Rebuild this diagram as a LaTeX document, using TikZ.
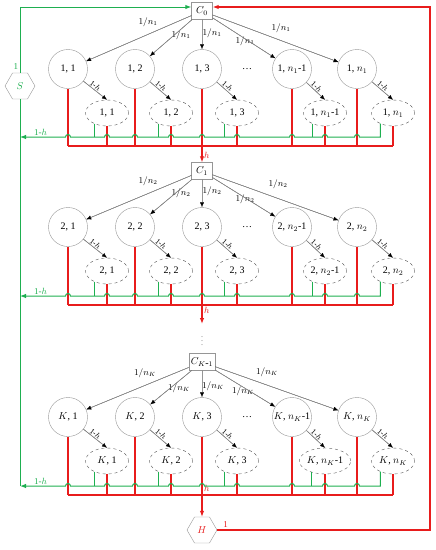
\documentclass[tikz,border=0pt]{standalone}
\usepackage{fontspec}
\setmainfont{Liberation Serif}
\usetikzlibrary{arrows.meta,shapes.geometric}
\definecolor{lgreen}{RGB}{30,175,80}
\definecolor{lred}{RGB}{232,28,28}
\definecolor{lgray}{RGB}{150,150,150}

\begin{document}
\begin{tikzpicture}[x=1pt,y=1pt,
    state/.style={circle,draw=lgray,minimum size=39pt,inner sep=0pt,font=\fontsize{10}{12}\selectfont},
    sub/.style={ellipse,draw=black!65,dashed,minimum width=43pt,minimum height=26pt,inner sep=0pt,font=\fontsize{10}{12}\selectfont},
    cbox/.style={rectangle,draw=lgray,minimum width=21pt,minimum height=17pt,inner sep=2pt,font=\fontsize{10}{12}\selectfont},
    hexa/.style={regular polygon,regular polygon sides=6,draw=lgray,minimum size=30pt,inner sep=0pt,font=\fontsize{10}{12}\selectfont},
    tr/.style={color=black,line width=0.3pt,-{Latex[length=5pt,width=4pt]},postaction={draw=lgray,line width=0.5pt,arrows=-,shorten >=5pt}},
    prob/.style={font=\fontsize{9}{10}\selectfont,inner sep=1pt},
    lab/.style={font=\fontsize{8}{9}\selectfont,inner sep=1pt},
    glab/.style={font=\fontsize{9}{10}\selectfont,inner sep=1.5pt,text=lgreen},
    rlab/.style={font=\fontsize{9}{10}\selectfont,inner sep=1.5pt,text=lred},
    gline/.style={color=lgreen,line width=1pt},
    rline/.style={color=lred,line width=1.1pt},
    garr/.style={gline,-{Latex[length=6pt,width=4.5pt]}},
    rarr/.style={rline,-{Latex[length=6pt,width=4.5pt]}}]

    \useasboundingbox (0,0) rectangle (436,-550);

    \coordinate (top) at (430,-7);
    \coordinate (g1) at (0,-137);
    \coordinate (r1) at (0,-146);
    \coordinate (g2) at (0,-296);
    \coordinate (r2) at (0,-305);
    \coordinate (g3) at (0,-486);
    \coordinate (r3) at (0,-495);
    \coordinate (a2) at (202,-324);

    \node[hexa,text=lgreen] (S) at (20,-86) {$S$};
    \node[hexa,text=lred] (H) at (202,-530) {$H$};

    \node[cbox] (C0) at (202,-11) {$C_0$};
    \node[state] (c11) at (68,-69) {1, 1};
    \node[state] (c12) at (135,-69) {1, 2};
    \node[state] (c13) at (202,-69) {1, 3};
    \node (d1) at (247,-69) {\dots};
    \node[state] (c14) at (292,-69) {1, $n_1$-1};
    \node[state] (c15) at (357,-69) {1, $n_1$};
    \node[sub] (e11) at (107,-113) {1, 1};
    \node[sub] (e12) at (171,-113) {1, 2};
    \node[sub] (e13) at (237,-113) {1, 3};
    \node[sub] (e14) at (325,-113) {1, $n_1$-1};
    \node[sub] (e15) at (393,-113) {1, $n_1$};
    \node[prob] (p11) at (148,-22) {$1/n_1$};
    \node[prob] (p12) at (181,-35.5) {$1/n_1$};
    \node[prob] (p13) at (212,-33) {$1/n_1$};
    \node[prob] (p14) at (245,-41.5) {$1/n_1$};
    \node[prob] (p15) at (281,-28.5) {$1/n_1$};

    \node[cbox] (C1) at (202,-171) {$C_1$};
    \node[state] (c21) at (68,-227) {2, 1};
    \node[state] (c22) at (135,-227) {2, 2};
    \node[state] (c23) at (202,-227) {2, 3};
    \node (d2) at (247,-227) {\dots};
    \node[state] (c24) at (292,-227) {2, $n_2$-1};
    \node[state] (c25) at (357,-227) {2, $n_2$};
    \node[sub] (e21) at (107,-271) {2, 1};
    \node[sub] (e22) at (171,-271) {2, 2};
    \node[sub] (e23) at (237,-271) {2, 3};
    \node[sub] (e24) at (325,-271) {2, $n_2$-1};
    \node[sub] (e25) at (393,-271) {2, $n_2$};
    \node[prob] (p21) at (148,-181) {$1/n_2$};
    \node[prob] (p22) at (181,-193.5) {$1/n_2$};
    \node[prob] (p23) at (212,-191) {$1/n_2$};
    \node[prob] (p24) at (245,-199) {$1/n_2$};
    \node[prob] (p25) at (278,-184.5) {$1/n_2$};

    \node[font=\fontsize{6}{7}\selectfont,inner sep=0pt] (vd) at (202,-338) {$\vdots$};

    \node[cbox] (CK) at (202,-362) {$C_{K\mbox{-}1}$};
    \node[state] (c31) at (68,-417) {$K$, 1};
    \node[state] (c32) at (135,-417) {$K$, 2};
    \node[state] (c33) at (202,-417) {$K$, 3};
    \node (d3) at (247,-417) {\dots};
    \node[state] (c34) at (292,-417) {$K$, $n_K$-1};
    \node[state] (c35) at (357,-417) {$K$, $n_K$};
    \node[sub] (e31) at (107,-461) {$K$, 1};
    \node[sub] (e32) at (171,-461) {$K$, 2};
    \node[sub] (e33) at (237,-461) {$K$, 3};
    \node[sub] (e34) at (325,-461) {$K$, $n_K$-1};
    \node[sub] (e35) at (393,-461) {$K$, $n_K$};
    \node[prob] (p31) at (145,-373) {$1/n_K$};
    \node[prob] (p32) at (179,-388.5) {$1/n_K$};
    \node[prob] (p33) at (213,-386) {$1/n_K$};
    \node[prob] (p34) at (243,-391) {$1/n_K$};
    \node[prob] (p35) at (267,-372) {$1/n_K$};

    \draw[garr] (S.north) -- node[glab,pos=0.09,left] (m0) {1} (S.north |- top) -- (C0.west |- top);
    \draw[rarr] (H.east) -- node[rlab,pos=0.04,above] (h0) {1} (top |- H.east) -- (top) -- (C0.east |- top);
    \draw[gline] (S.south) -- (S.south |- g3);

    \draw[tr] (C0) -- (c11);
    \draw[tr] (C0) -- (c12);
    \draw[tr] (C0) -- (c13);
    \draw[tr] (C0) -- (c14);
    \draw[tr] (C0) -- (c15);
    \draw[tr] (c11) -- node[lab,sloped,above,pos=0.4] (q11) {1-$h$} (e11.north);
    \draw[tr] (c12) -- node[lab,sloped,above,pos=0.4] (q12) {1-$h$} (e12.north);
    \draw[tr] (c13) -- node[lab,sloped,above,pos=0.4] (q13) {1-$h$} (e13.north);
    \draw[tr] (c14) -- node[lab,sloped,above,pos=0.4] (q14) {1-$h$} (e14.north);
    \draw[tr] (c15) -- node[lab,sloped,above,pos=0.4] (q15) {1-$h$} (e15.north);
    \draw[rline] (c11) -- (c11 |- r1);
    \draw[rline] (c12) -- (c12 |- r1);
    \draw[rline] (c14) -- (c14 |- r1);
    \draw[rline] (c15) -- (c15 |- r1);
    \draw[rline] (e11) -- (e11 |- r1);
    \draw[rline] (e12) -- (e12 |- r1);
    \draw[rline] (e13) -- (e13 |- r1);
    \draw[rline] (e14) -- (e14 |- r1);
    \draw[rline] (e15) -- (e15 |- r1);
    \draw[rline] (c11 |- r1) -- (e15 |- r1);
    \draw[rarr] (c13) -- node[rlab,pos=0.9,right] (h1) {$h$} (C1);
    \draw[gline] (e11.220) -- (e11.220 |- g1);
    \draw[gline] (e12.220) -- (e12.220 |- g1);
    \draw[gline] (e13.220) -- (e13.220 |- g1);
    \draw[gline] (e14.220) -- (e14.220 |- g1);
    \draw[garr] (e15.220) -- (e15.220 |- g1) -- (359.5,-137) arc (0:180:2.5) -- (327.5,-137) arc (0:180:2.5) -- (294.5,-137) arc (0:180:2.5) -- (239.5,-137) arc (0:180:2.5) -- (204.5,-137) arc (0:180:2.5) -- (173.5,-137) arc (0:180:2.5) -- (137.5,-137) arc (0:180:2.5) -- (109.5,-137) arc (0:180:2.5) -- (70.5,-137) arc (0:180:2.5) -- node[glab,pos=0.55,above] (m1) {1-$h$} (S |- g1);

    \draw[tr] (C1) -- (c21);
    \draw[tr] (C1) -- (c22);
    \draw[tr] (C1) -- (c23);
    \draw[tr] (C1) -- (c24);
    \draw[tr] (C1) -- (c25);
    \draw[tr] (c21) -- node[lab,sloped,above,pos=0.4] (q21) {1-$h$} (e21.north);
    \draw[tr] (c22) -- node[lab,sloped,above,pos=0.4] (q22) {1-$h$} (e22.north);
    \draw[tr] (c23) -- node[lab,sloped,above,pos=0.4] (q23) {1-$h$} (e23.north);
    \draw[tr] (c24) -- node[lab,sloped,above,pos=0.4] (q24) {1-$h$} (e24.north);
    \draw[tr] (c25) -- node[lab,sloped,above,pos=0.4] (q25) {1-$h$} (e25.north);
    \draw[rline] (c21) -- (c21 |- r2);
    \draw[rline] (c22) -- (c22 |- r2);
    \draw[rline] (c24) -- (c24 |- r2);
    \draw[rline] (c25) -- (c25 |- r2);
    \draw[rline] (e21) -- (e21 |- r2);
    \draw[rline] (e22) -- (e22 |- r2);
    \draw[rline] (e23) -- (e23 |- r2);
    \draw[rline] (e24) -- (e24 |- r2);
    \draw[rline] (e25) -- (e25 |- r2);
    \draw[rline] (c21 |- r2) -- (e25 |- r2);
    \draw[rarr] (c23) -- node[rlab,pos=0.82,right] (h2) {$h$} (a2);
    \draw[gline] (e21.220) -- (e21.220 |- g2);
    \draw[gline] (e22.220) -- (e22.220 |- g2);
    \draw[gline] (e23.220) -- (e23.220 |- g2);
    \draw[gline] (e24.220) -- (e24.220 |- g2);
    \draw[garr] (e25.220) -- (e25.220 |- g2) -- (359.5,-296) arc (0:180:2.5) -- (327.5,-296) arc (0:180:2.5) -- (294.5,-296) arc (0:180:2.5) -- (239.5,-296) arc (0:180:2.5) -- (204.5,-296) arc (0:180:2.5) -- (173.5,-296) arc (0:180:2.5) -- (137.5,-296) arc (0:180:2.5) -- (109.5,-296) arc (0:180:2.5) -- (70.5,-296) arc (0:180:2.5) -- node[glab,pos=0.55,above] (m2) {1-$h$} (S |- g2);

    \draw[tr] (CK) -- (c31);
    \draw[tr] (CK) -- (c32);
    \draw[tr] (CK) -- (c33);
    \draw[tr] (CK) -- (c34);
    \draw[tr] (CK) -- (c35);
    \draw[tr] (c31) -- node[lab,sloped,above,pos=0.4] (q31) {1-$h$} (e31.north);
    \draw[tr] (c32) -- node[lab,sloped,above,pos=0.4] (q32) {1-$h$} (e32.north);
    \draw[tr] (c33) -- node[lab,sloped,above,pos=0.4] (q33) {1-$h$} (e33.north);
    \draw[tr] (c34) -- node[lab,sloped,above,pos=0.4] (q34) {1-$h$} (e34.north);
    \draw[tr] (c35) -- node[lab,sloped,above,pos=0.4] (q35) {1-$h$} (e35.north);
    \draw[rline] (c31) -- (c31 |- r3);
    \draw[rline] (c32) -- (c32 |- r3);
    \draw[rline] (c34) -- (c34 |- r3);
    \draw[rline] (c35) -- (c35 |- r3);
    \draw[rline] (e31) -- (e31 |- r3);
    \draw[rline] (e32) -- (e32 |- r3);
    \draw[rline] (e33) -- (e33 |- r3);
    \draw[rline] (e34) -- (e34 |- r3);
    \draw[rline] (e35) -- (e35 |- r3);
    \draw[rline] (c31 |- r3) -- (e35 |- r3);
    \draw[rarr] (c33) -- node[rlab,pos=0.65,right] (h3) {$h$} (H);
    \draw[gline] (e31.220) -- (e31.220 |- g3);
    \draw[gline] (e32.220) -- (e32.220 |- g3);
    \draw[gline] (e33.220) -- (e33.220 |- g3);
    \draw[gline] (e34.220) -- (e34.220 |- g3);
    \draw[garr] (e35.220) -- (e35.220 |- g3) -- (359.5,-486) arc (0:180:2.5) -- (327.5,-486) arc (0:180:2.5) -- (294.5,-486) arc (0:180:2.5) -- (239.5,-486) arc (0:180:2.5) -- (204.5,-486) arc (0:180:2.5) -- (173.5,-486) arc (0:180:2.5) -- (137.5,-486) arc (0:180:2.5) -- (109.5,-486) arc (0:180:2.5) -- (70.5,-486) arc (0:180:2.5) -- node[glab,pos=0.55,above] (m3) {1-$h$} (S |- g3);
\end{tikzpicture}
\end{document}
